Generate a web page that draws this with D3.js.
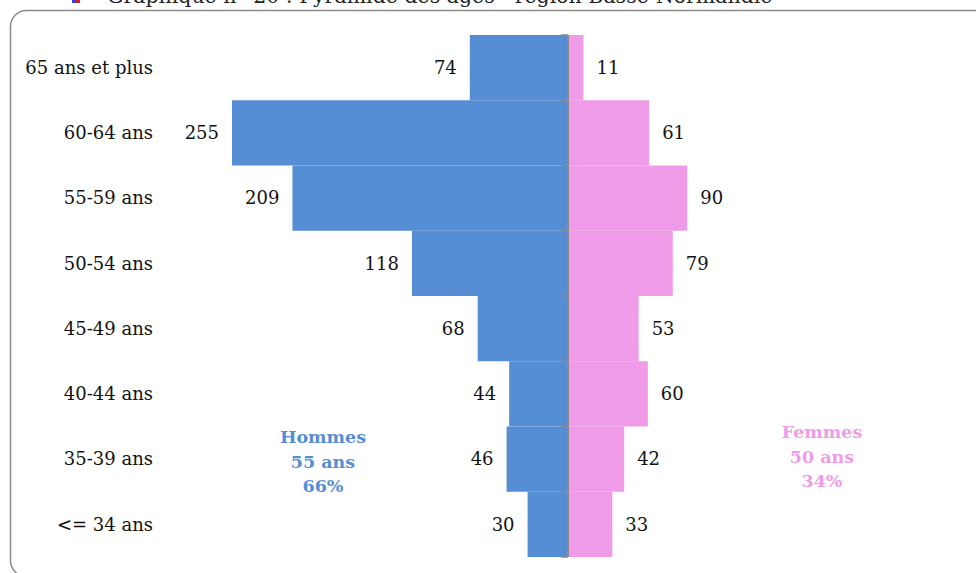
<!DOCTYPE html>
<html><head><meta charset="utf-8">
<script src="https://cdn.jsdelivr.net/npm/d3@7/dist/d3.min.js"></script>
<style>body{margin:0;background:#fff}svg{display:block}</style>
</head><body>
<svg id="c" width="976" height="573"></svg>
<script>
const categories = ["65 ans et plus","60-64 ans","55-59 ans","50-54 ans","45-49 ans","40-44 ans","35-39 ans","<= 34 ans"];
const hommes = [74,255,209,118,68,44,46,30];
const femmes = [11,61,90,79,53,60,42,33];
const hommesLabel = ["Hommes","55 ans","66%"];
const femmesLabel = ["Femmes","50 ans","34%"];
const title = "Graphique n° 20 : Pyramide des âges - région Basse-Normandie";

const svg = d3.select("#c");
const font = "'DejaVu Serif', serif";
const cx = 568;
const y = d3.scaleBand().domain(categories).range([35,557]).padding(0);
const xL = d3.scaleLinear().domain([0,255]).range([cx-1, 232]);
const xR = d3.scaleLinear().domain([0,255]).range([cx+1, cx+1+335]);
const blue = "#558ed5", pink = "#f09be8";

// title (cut off at top)
svg.append("rect").attr("x",72).attr("y",-4).attr("width",8).attr("height",7).attr("fill","#3344cc");
svg.append("rect").attr("x",76).attr("y",-1).attr("width",4).attr("height",4).attr("fill","#cc2233");
svg.append("text").attr("x",107).attr("y",3).attr("font-family",font).attr("font-size",20.5).attr("fill","#222").text(title);

// frame
svg.append("rect").attr("x",10.5).attr("y",10.5).attr("width",980).attr("height",566).attr("rx",16)
  .attr("fill","none").attr("stroke","#8c8c8c").attr("stroke-width",1.5);

const data = categories.map((c,i)=>({c,h:hommes[i],f:femmes[i]}));

svg.selectAll(".bh").data(data).join("rect").attr("class","bh")
  .attr("x",d=>xL(d.h)).attr("y",d=>y(d.c)).attr("width",d=>xL(0)-xL(d.h)).attr("height",y.bandwidth())
  .attr("fill",blue);
svg.selectAll(".bf").data(data).join("rect").attr("class","bf")
  .attr("x",xR(0)).attr("y",d=>y(d.c)).attr("width",d=>xR(d.f)-xR(0)).attr("height",y.bandwidth())
  .attr("fill",pink);

// axis line with ticks
const ax = svg.append("g");
ax.append("line").attr("x1",cx).attr("x2",cx).attr("y1",35).attr("y2",557).attr("stroke","#8a8a8a").attr("stroke-width",2);
const bounds = categories.map(c=>y(c)).concat([557]);
ax.selectAll(".tk").data(bounds).join("line").attr("x1",cx-7).attr("x2",cx).attr("y1",d=>d).attr("y2",d=>d)
  .attr("stroke","#8a8a8a").attr("stroke-width",1.5);

// category labels
svg.selectAll(".cl").data(categories).join("text").attr("class","cl")
  .attr("x",153).attr("y",d=>y(d)+y.bandwidth()/2).attr("dy","0.35em").attr("text-anchor","end")
  .attr("font-family",font).attr("font-size",18).attr("fill","#111").text(d=>d);

// value labels
svg.selectAll(".vh").data(data).join("text").attr("class","vh")
  .attr("x",d=>xL(d.h)-13).attr("y",d=>y(d.c)+y.bandwidth()/2).attr("dy","0.35em").attr("text-anchor","end")
  .attr("font-family",font).attr("font-size",18).attr("fill","#111").text(d=>d.h);
svg.selectAll(".vf").data(data).join("text").attr("class","vf")
  .attr("x",d=>xR(d.f)+13).attr("y",d=>y(d.c)+y.bandwidth()/2).attr("dy","0.35em").attr("text-anchor","start")
  .attr("font-family",font).attr("font-size",18).attr("fill","#111").text(d=>d.f);

// group labels
svg.selectAll(".hl").data(hommesLabel).join("text").attr("class","hl")
  .attr("x",323).attr("y",(d,i)=>443+i*24.5).attr("text-anchor","middle")
  .attr("font-family",font).attr("font-weight","bold").attr("font-size",17.5).attr("fill",blue).text(d=>d);
svg.selectAll(".fl").data(femmesLabel).join("text").attr("class","fl")
  .attr("x",822).attr("y",(d,i)=>438+i*24.5).attr("text-anchor","middle")
  .attr("font-family",font).attr("font-weight","bold").attr("font-size",17.5).attr("fill",pink).text(d=>d);
</script>
</body></html>
